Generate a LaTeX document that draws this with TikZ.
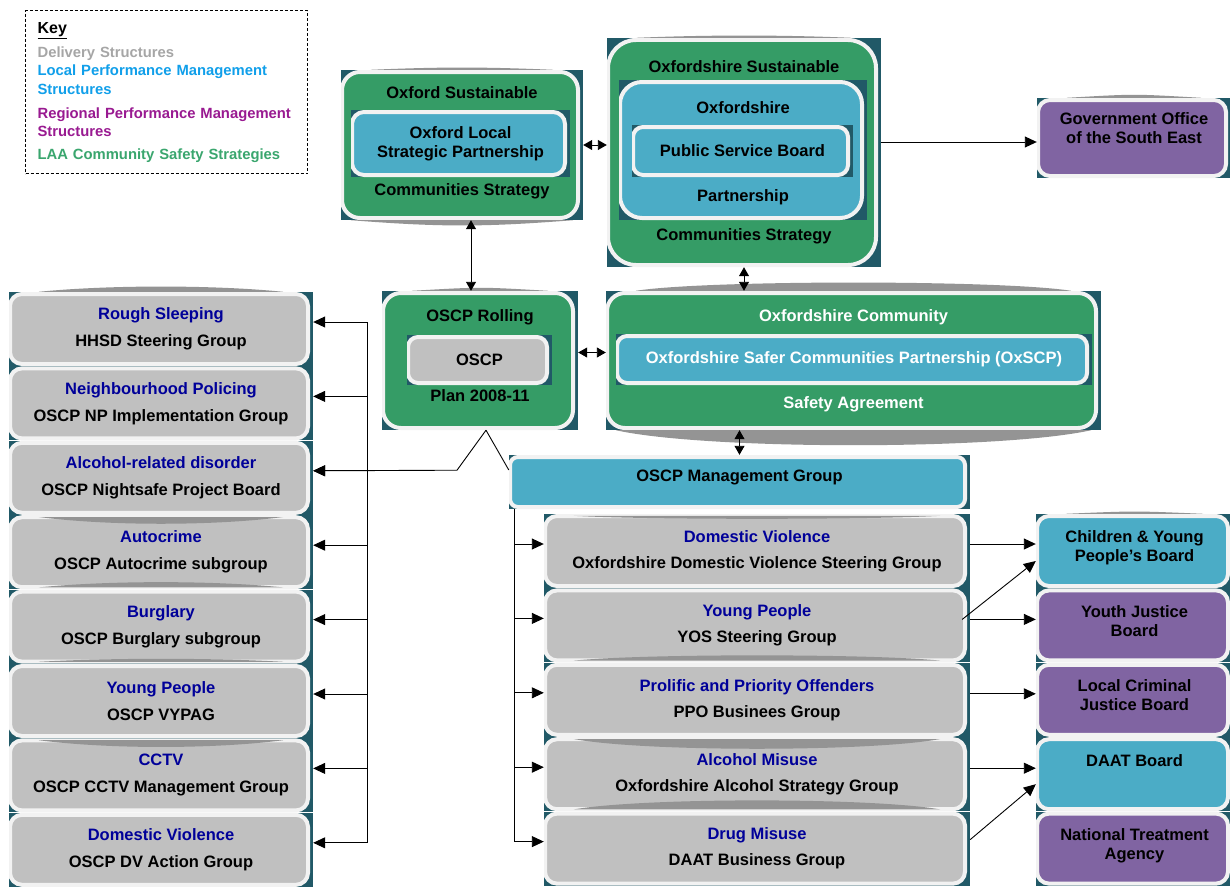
\documentclass[tikz,border=0pt]{standalone}
\usepackage{fontspec}
\setmainfont{Liberation Sans}
\usetikzlibrary{positioning, arrows.meta}

\definecolor{darkbg}{HTML}{215967}
\definecolor{rim}{HTML}{F2F2F2}
\definecolor{oxgreen}{HTML}{359C66}
\definecolor{oxblue}{HTML}{4BACC6}
\definecolor{oxpurple}{HTML}{8064A2}
\definecolor{oxgrey}{HTML}{C0C0C0}
\definecolor{navy}{HTML}{000099}
\definecolor{keygrey}{HTML}{A6A6A6}
\definecolor{keyblue}{HTML}{109FEA}
\definecolor{keypurple}{HTML}{991A91}
\definecolor{keygreen}{HTML}{3AA66E}

\newcommand{\bxfont}{\bfseries\fontsize{16.5}{19}\selectfont}

\tikzset{
	arrow/.style={
		draw=black,
		line width=0.9pt,
		->,
		>={Triangle[length=12pt,width=11pt]}
	},
	dbl/.style={arrow, <->, >={Triangle[length=9pt,width=10pt]}},
	link/.style={draw=black, line width=0.9pt},
	panel/.style 2 args={
		draw=none,
		fill=darkbg,
		inner sep=0pt,
		align=center,
		font=\bxfont,
		path picture={\draw[draw=rim, line width=4pt, fill=#1, rounded corners=#2]
			([shift={(1,2)}]path picture bounding box.north west) rectangle
			([shift={(-5,-2)}]path picture bounding box.south east);}
	},
	lbox/.style={panel={oxgrey}{12pt}, minimum width=304pt, minimum height=74pt},
	mbox/.style={panel={oxgrey}{12pt}, minimum width=426pt, minimum height=74pt},
	rbox/.style={panel={#1}{12pt}, minimum width=197pt, minimum height=74pt},
	toplabel/.style={font=\bxfont, align=center, anchor=north},
	botlabel/.style={font=\bxfont, align=center, anchor=south},
	sheen/.style={fill=black!42},
}

\begin{document}
\begin{tikzpicture}[x=1pt, y=-1pt]

\path[use as bounding box, fill=white] (0,0) rectangle (1230,891);

% Key
\node[
	draw=black,
	dash pattern=on 3pt off 2pt,
	line width=1.2pt,
	anchor=north west,
	minimum width=282pt,
	minimum height=163pt,
	text width=258pt,
	align=left,
	font=\bfseries\fontsize{14.8}{18}\selectfont
] (Key) at (25,10) {
	{\fontsize{16}{18}\selectfont\underline{Key}}\\[6pt]
	\textcolor{keygrey}{Delivery Structures}\\
	\textcolor{keyblue}{Local Performance Management}\\[1pt]
	\textcolor{keyblue}{Structures}\\[6pt]
	\textcolor{keypurple}{Regional Performance Management}\\
	\textcolor{keypurple}{Structures}\\[5pt]
	\textcolor{keygreen}{LAA Community Safety Strategies}
};

% Sustainable communities strategies
\node[panel={oxgreen}{18pt}, minimum width=242pt, minimum height=150pt,
	label={[toplabel, yshift=-13.7pt]north:Oxford Sustainable},
	label={[botlabel, yshift=18pt]south:Communities Strategy}] (OxSus) at (462,145) {};
\node[panel={oxblue}{12pt}, minimum width=219pt, minimum height=67pt] (OxLSP) at (460.5,143.5) {Oxford Local\\Strategic Partnership};

\node[panel={oxgreen}{28pt}, minimum width=274pt, minimum height=229pt,
	label={[toplabel, yshift=-19.7pt]north:Oxfordshire Sustainable},
	label={[botlabel, yshift=20pt]south:Communities Strategy}] (OxfSus) at (744,152.5) {};
\node[panel={oxblue}{22pt}, minimum width=248pt, minimum height=140pt,
	label={[toplabel, yshift=-18.7pt]north:Oxfordshire},
	label={[botlabel, yshift=12pt]south:Partnership}] (OxfP) at (743,150) {};
\node[panel={oxblue}{10pt}, minimum width=221pt, minimum height=52pt] (PSB) at (742.5,151) {Public Service Board};

% Government Office
\node[panel={oxpurple}{12pt}, minimum width=194pt, minimum height=80pt,
	label={[toplabel, yshift=-11.7pt]north:Government Office\\of the South East}] (Govt) at (1134,138) {};

% Community safety
\node[panel={oxgreen}{18pt}, minimum width=196pt, minimum height=139pt,
	label={[toplabel, yshift=-15.7pt]north:OSCP Rolling},
	label={[botlabel, yshift=24.7pt]south:Plan 2008-11}] (Roll) at (480,360.5) {};
\node[panel={oxgrey}{10pt}, minimum width=145pt, minimum height=50pt] (OSCP) at (479.5,360) {OSCP};

\node[panel={oxgreen}{18pt}, minimum width=495pt, minimum height=139pt,
	label={[toplabel, text=white, yshift=-15.7pt]north:Oxfordshire Community},
	label={[botlabel, text=white, yshift=14.2pt]south:Safety Agreement}] (OxCom) at (853.5,360.5) {};
\node[panel={oxblue}{10pt}, minimum width=476pt, minimum height=51pt, text=white] (OxSCP) at (854,359.5) {Oxfordshire Safer Communities Partnership (OxSCP)};

\node[panel={oxblue}{8pt}, minimum width=461pt, minimum height=54pt,
	label={[font=\bxfont, yshift=5pt]center:OSCP Management Group}] (Mgmt) at (739.5,482) {};

% Delivery groups (left)
\node[lbox] (RS) at (161,329) {\textcolor{navy}{Rough Sleeping}\\[8pt]HHSD Steering Group};
\node[lbox, below=0pt of RS] (NP) {\textcolor{navy}{Neighbourhood Policing}\\[8pt]OSCP NP Implementation Group};
\node[lbox, below=0pt of NP] (ARD) {\textcolor{navy}{Alcohol-related disorder}\\[8pt]OSCP Nightsafe Project Board};
\node[lbox, below=0pt of ARD] (AC) {\textcolor{navy}{Autocrime}\\[8pt]OSCP Autocrime subgroup};
\node[lbox, below=0pt of AC] (BG) {\textcolor{navy}{Burglary}\\[8pt]OSCP Burglary subgroup};
\node[lbox, below=0pt of BG] (YP) {\textcolor{navy}{Young People}\\[8pt]OSCP VYPAG};
\node[lbox, below=0pt of YP] (CC) {\textcolor{navy}{CCTV}\\[8pt]OSCP CCTV Management Group};
\node[lbox, below=0pt of CC] (DV) {\textcolor{navy}{Domestic Violence}\\[8pt]OSCP DV Action Group};

% Delivery groups (middle)
\node[mbox] (DVS) at (757,551) {\textcolor{navy}{Domestic Violence}\\[7pt]Oxfordshire Domestic Violence Steering Group};
\node[mbox, below=0pt of DVS] (YPS) {\textcolor{navy}{Young People}\\[7pt]YOS Steering Group};
\node[mbox, below=0pt of YPS] (PPO) {\textcolor{navy}{Prolific and Priority Offenders}\\[7pt]PPO Businees Group};
\node[mbox, below=0pt of PPO] (AM) {\textcolor{navy}{Alcohol Misuse}\\[7pt]Oxfordshire Alcohol Strategy Group};
\node[mbox, below=0pt of AM] (DM) {\textcolor{navy}{Drug Misuse}\\[7pt]DAAT Business Group};

% Boards (right)
\node[rbox=oxblue, label={[toplabel, yshift=-13.5pt]north:Children \& Young\\People's Board}] (CYP) at (1134.5,551) {};
\node[rbox=oxpurple, below=0pt of CYP, label={[toplabel, yshift=-13.5pt]north:Youth Justice\\Board}] (YJB) {};
\node[rbox=oxpurple, below=0pt of YJB, label={[toplabel, yshift=-13.5pt]north:Local Criminal\\Justice Board}] (LCJB) {};
\node[rbox=oxblue, below=0pt of LCJB, label={[toplabel, yshift=-13.5pt]north:DAAT Board}] (DAAT) {};
\node[rbox=oxpurple, below=0pt of DAAT, label={[toplabel, yshift=-13.5pt]north:National Treatment\\Agency}] (NTA) {};

% Shadows
\foreach \n/\t in {RS/7, Roll/4, OxCom/11, OxSus/3, OxfSus/3, Govt/4, CYP/3}
	\fill[sheen] ([xshift=30pt]\n.north west) .. controls ([xshift=100pt,yshift=\t]\n.north west)
		and ([xshift=-100pt,yshift=\t]\n.north east) .. ([xshift=-30pt]\n.north east) -- cycle;
\foreach \n/\t in {OxCom/20, OxSus/7}
	\fill[sheen] ([xshift=10pt]\n.south west) .. controls ([xshift=100pt,yshift=-\t]\n.south west)
		and ([xshift=-100pt,yshift=-\t]\n.south east) .. ([xshift=-10pt]\n.south east) -- cycle;
\foreach \n/\t in {AC/9, CC/9, AM/13, DVS/4}
	\fill[sheen] ([xshift=30pt,yshift=-2pt]\n.north west) .. controls ([xshift=100pt,yshift=-2-\t]\n.north west)
		and ([xshift=-100pt,yshift=-2-\t]\n.north east) .. ([xshift=-30pt,yshift=-2pt]\n.north east) -- cycle;
\foreach \n/\t in {AC/7, BG/4, YPS/7, AM/12}
	\fill[sheen] ([xshift=30pt,yshift=2pt]\n.south west) .. controls ([xshift=100pt,yshift=2+\t]\n.south west)
		and ([xshift=-100pt,yshift=2+\t]\n.south east) .. ([xshift=-30pt,yshift=2pt]\n.south east) -- cycle;

% Arrows
\draw[dbl] (OxSus.east) -- (OxSus.east -| OxfSus.west);
\draw[arrow] ([yshift=-4pt]OxfSus.east |- Govt.west) -- ([yshift=-4pt]Govt.west);
\draw[dbl] ([xshift=9pt]OxSus.south) -- ([xshift=9pt]OxSus.south |- Roll.north);
\draw[dbl] (OxfSus.south) -- (OxfSus.south |- OxCom.north);
\draw[dbl] ([yshift=8pt]Roll.east) -- ([yshift=8pt]Roll.east -| OxCom.west);
\draw[dbl] (OxCom.south -| Mgmt.north) -- (Mgmt.north);

\coordinate (fork) at ([xshift=6pt]Roll.south);
\draw[arrow] (fork) -- ++(-29,40) -- ([yshift=7pt]ARD.east);
\draw[link] (fork) -- ([yshift=12pt]Mgmt.west);

\coordinate (lbus) at ([xshift=54pt]RS.east);
\draw[link] ([yshift=7pt]RS.east -| lbus) -- ([yshift=7pt]DV.east -| lbus);
\foreach \n in {RS,NP,ARD,AC,BG,YP,CC,DV}
	\draw[arrow] ([yshift=7pt]\n.east -| lbus) -- ([yshift=7pt]\n.east);

\coordinate (rbus) at ([xshift=6pt]Mgmt.south west);
\draw[link] (rbus) -- ([yshift=7pt]DM.west -| rbus);
\foreach \n in {DVS,YPS,PPO,AM,DM}
	\draw[arrow] ([yshift=7pt]\n.west -| rbus) -- ([yshift=7pt]\n.west);

\draw[arrow] ([yshift=7pt]DVS.east) -- ([yshift=7pt]DVS.east -| CYP.west);
\draw[arrow] ([xshift=-8pt,yshift=6pt]YPS.east) -- ([yshift=-10pt]CYP.west);
\draw[arrow] ([yshift=6pt]YPS.east) -- ([yshift=6pt]YPS.east -| YJB.west);
\draw[arrow] ([yshift=6pt]PPO.east) -- ([yshift=6pt]PPO.east -| LCJB.west);
\draw[arrow] ([yshift=6pt]AM.east) -- ([yshift=6pt]AM.east -| DAAT.west);
\draw[arrow] ([yshift=9pt]DM.east) -- ([yshift=-10pt]DAAT.west);

\end{tikzpicture}
\end{document}
